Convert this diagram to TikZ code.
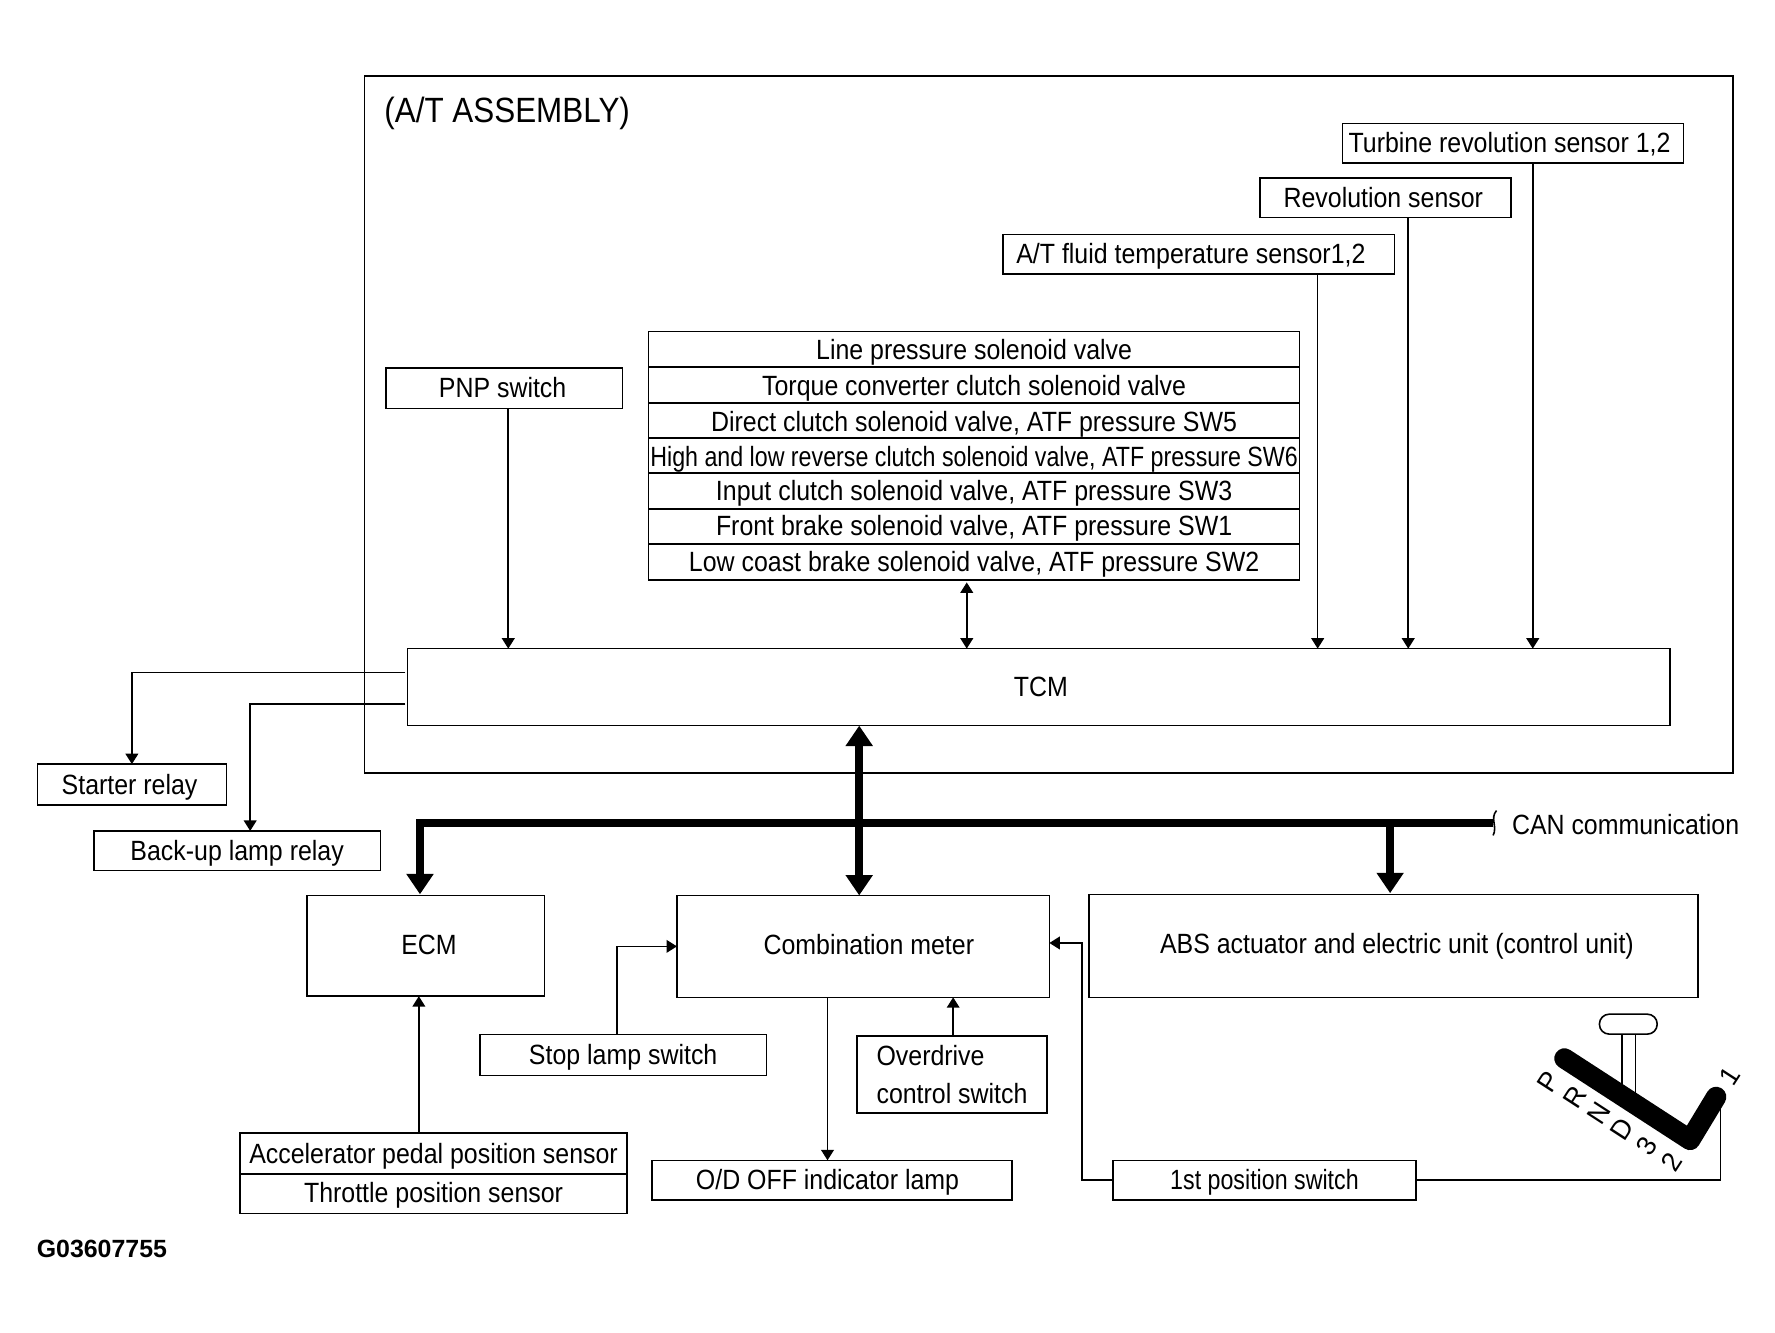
\documentclass[tikz,border=0pt]{standalone}
\usepackage{fontspec}
\setmainfont[FakeStretch=0.895]{Liberation Sans}
\newfontfamily\tightfont[FakeStretch=0.834]{Liberation Sans}
\newfontfamily\plainfont{Liberation Sans}
\usetikzlibrary{shapes,arrows.meta}
\tikzstyle{block} = [rectangle, draw, line width=.7pt, inner sep=0pt, outer sep=0pt,
    text centered, text height=10pt, text depth=1.6pt, font=\fontsize{12.3}{14}\selectfont]
\tikzstyle{stackrow} = [block, minimum width=287.5pt, minimum height=15.6pt]
\tikzstyle{line} = [draw, line width=.7pt, -{Triangle[width=5.6pt,length=4.6pt]}]
\tikzstyle{biline} = [draw, line width=.7pt, {Triangle[width=5.6pt,length=4.6pt]}-{Triangle[width=5.6pt,length=4.6pt]}]
\tikzstyle{wire} = [draw, line width=.7pt]
\tikzstyle{busline} = [draw, line width=3.5pt, -{Triangle[width=11.5pt,length=9pt]}]
\tikzstyle{bibus} = [draw, line width=3.5pt, {Triangle[width=11.5pt,length=9pt]}-{Triangle[width=11.5pt,length=9pt]}]
\tikzstyle{gearmark} = [inner sep=0pt, rotate=57, font=\plainfont\fontsize{12}{14}\selectfont]

\begin{document}
\begin{tikzpicture}[x=.5pt, y=-.5pt]
\useasboundingbox (0,0) rectangle (1568,1177.5);

% transmission outline
\node [draw, line width=.7pt, inner sep=0pt, outer sep=0pt, minimum width=604.5pt, minimum height=308pt] at (926.5,375) (assembly) {};
\node [inner sep=0pt, font=\fontsize{15.5}{18}\selectfont] at (448,100) (asmtitle) {(A/T ASSEMBLY)};

\node [block, minimum width=150.5pt, minimum height=17.5pt] at (1336.5,126.5) (turbine) {Turbine revolution sensor 1,2\hspace*{3pt}};
\node [block, minimum width=111pt, minimum height=17.5pt] at (1224,174.5) (revsensor) {Revolution sensor\hspace*{2pt}};
\node [block, minimum width=173pt, minimum height=17.5pt] at (1059,224.5) (fluidtemp) {A/T fluid temperature sensor1,2\hspace*{7pt}};
\node [block, minimum width=104.5pt, minimum height=18pt] at (445.5,343) (pnp) {PNP switch\hspace*{1.5pt}};

\node [stackrow, text height=11pt] at (860.5,308.5) (linevalve) {Line pressure solenoid valve};
\node [stackrow, text height=10.6pt] at (860.5,340) (tccvalve) {Torque converter clutch solenoid valve};
\node [stackrow, text height=11pt] at (860.5,371.5) (directvalve) {Direct clutch solenoid valve, ATF pressure SW5};
\node [stackrow, text height=11pt, font=\tightfont\fontsize{12.3}{14}\selectfont] at (860.5,402.5) (hilovalve) {High and low reverse clutch solenoid valve, ATF pressure SW6};
\node [stackrow] at (860.5,433.5) (inputvalve) {Input clutch solenoid valve, ATF pressure SW3};
\node [stackrow] at (860.5,465) (frontvalve) {Front brake solenoid valve, ATF pressure SW1};
\node [stackrow] at (860.5,496.5) (lowvalve) {Low coast brake solenoid valve, ATF pressure SW2};

\node [block, minimum width=557.5pt, minimum height=34pt] at (917.5,607) (tcm) {TCM\hspace*{-2pt}};

% outside the transmission
\node [block, minimum width=83.5pt, minimum height=18pt] at (116.5,693) (starter) {Starter relay\hspace*{2pt}};
\node [block, minimum width=126.5pt, minimum height=17.5pt] at (209.5,751.5) (backup) {Back-up lamp relay};
\node [block, minimum width=105pt, minimum height=44.5pt, text depth=2.2pt] at (376,835.5) (ecm) {ECM\hspace*{-3pt}};
\node [block, minimum width=164.5pt, minimum height=45pt, text depth=2.4pt] at (762.5,836) (meter) {Combination meter\hspace*{-5pt}};
\node [block, minimum width=269pt, minimum height=45.5pt, text depth=3pt] at (1231,835.5) (abs) {ABS actuator and electric unit (control unit)\hspace*{-3pt}};
\node [block, minimum width=126.5pt, minimum height=18pt] at (550.5,932) (stoplamp) {Stop lamp switch};
\node [block, minimum width=84pt, minimum height=34pt, align=left, text height=, text depth=, font=\fontsize{12.3}{17}\selectfont] at (841,949) (overdrive) {Overdrive\\control switch};
\node [block, minimum width=171pt, minimum height=18pt] at (383,1019) (accel) {Accelerator pedal position sensor};
\node [block, minimum width=171pt, minimum height=17.5pt, text depth=2pt] at (383,1054.5) (throttle) {Throttle position sensor};
\node [block, minimum width=159pt, minimum height=17.5pt] at (735,1042.5) (odlamp) {O/D OFF indicator lamp\hspace*{4pt}};
\node [block, minimum width=134pt, minimum height=17.5pt, font=\tightfont\fontsize{12.3}{14}\selectfont] at (1117,1042.5) (firstpos) {1st position switch};

\node [inner sep=0pt, font=\fontsize{12.3}{14}\selectfont] at (1436,728) (canlabel) {CAN communication};
\node [inner sep=0pt, font=\plainfont\bfseries\fontsize{11}{13}\selectfont] at (90,1103) (partno) {G03607755};

% feet of the connectors
\coordinate (pnpfoot) at (449,573);
\coordinate (stackfoot) at (854,573);
\coordinate (fluidfoot) at (1164,573);
\coordinate (revfoot) at (1244,573);
\coordinate (turbinefoot) at (1354,573);
\coordinate (starterout) at (358,594);
\coordinate (backupout) at (358,622);
\coordinate (backupfoot) at (221,734);
\coordinate (bustie) at (759,641);
\coordinate (canend) at (1319,727);
\coordinate (ecmdrop) at (371,790);
\coordinate (absdrop) at (1228,789);
\coordinate (stopfoot) at (545,914);
\coordinate (overfoot) at (842,915);
\coordinate (lampfoot) at (731,1025);
\coordinate (meterfeed) at (927,833);
\coordinate (accelfoot) at (370,1001);

\draw [line] (pnpfoot |- pnp.south) -- (pnpfoot);
\draw [biline, shorten <=1.2pt] (stackfoot |- lowvalve.south) -- (stackfoot);
\draw [line] (fluidfoot |- fluidtemp.south) -- (fluidfoot);
\draw [line] (revfoot |- revsensor.south) -- (revfoot);
\draw [line] (turbinefoot |- turbine.south) -- (turbinefoot);
\draw [line] (starterout) -| (starter.north);
\draw [line] (backupout) -| (backupfoot);

% CAN bus
\draw [busline] (canend) -| (ecmdrop);
\draw [busline] (absdrop |- canend) -- (absdrop);
\draw [bibus] (bustie) -- (bustie |- meter.north);
\coordinate (cantop) at (1322,716);
\coordinate (canbot) at (1319,738);
\draw [wire] (cantop) .. controls (1316,723) and (1323,730) .. (canbot);

\draw [line] (stopfoot) |- (meter.west);
\draw [line] (overfoot) -- (overfoot |- meter.south);
\draw [line] (lampfoot |- meter.south) -- (lampfoot);
\draw [line] (firstpos.west) -- ++(-27,0) |- (meterfeed);
\draw [line] (accelfoot) -- (accelfoot |- ecm.south);

% selector
\coordinate (leverstart) at (1382,935);
\coordinate (leverbend) at (1493,1007);
\coordinate (leverend) at (1516,969);
\coordinate (wirefoot) at (1520,975);
\coordinate (stemleft) at (1432.6,960);
\coordinate (stemright) at (1444.6,968);
\node [draw, line width=.7pt, inner sep=0pt, outer sep=0pt, rounded corners=4.3pt, minimum width=25.5pt, minimum height=8.8pt] at (1438.4,904.7) (knob) {};
\draw [wire] (knob.south -| stemleft) -- (stemleft);
\draw [wire] (knob.south -| stemright) -- (stemright);
\draw [wire] (firstpos.east) -| (wirefoot);
\draw [line width=9pt, line cap=round, line join=round] (leverstart) -- (leverbend) -- (leverend);
\node [gearmark] at (1367.8,955.5) (gearp) {P};
\node [gearmark] at (1391.3,968.8) (gearr) {R};
\node [gearmark] at (1412.8,983.5) (gearn) {N};
\node [gearmark] at (1432.6,997.6) (geard) {D};
\node [gearmark] at (1454.7,1012.4) (gearthree) {3};
\node [gearmark] at (1476.8,1026.2) (geartwo) {2};
\node [gearmark] at (1527.7,950.5) (gearone) {1};
\end{tikzpicture}
\end{document}
